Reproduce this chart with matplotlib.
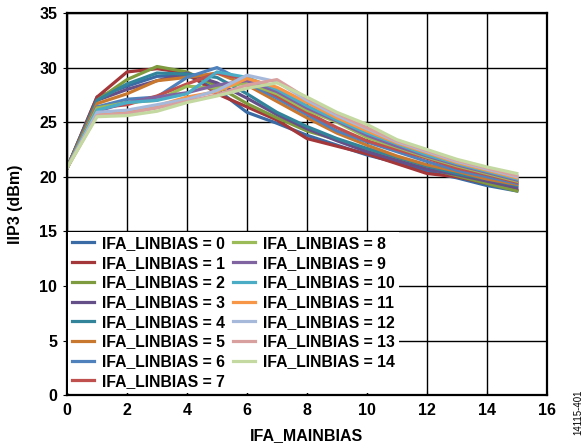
import matplotlib
matplotlib.use("Agg")
import matplotlib.pyplot as plt

# IIP3 vs IFA_MAINBIAS, one line per IFA_LINBIAS setting
mainbias = list(range(16))

iip3 = [
    [20.8, 27.3, 28.3, 29.2, 29.3, 28.0, 25.9, 24.9, 23.8, 22.9, 22.0, 21.3, 20.5, 19.9, 19.2, 18.7],
    [20.8, 27.3, 29.6, 29.9, 29.5, 27.6, 26.4, 25.2, 23.5, 22.8, 22.1, 21.2, 20.3, 20.0, 19.4, 18.8],
    [20.8, 27.0, 28.9, 30.1, 29.6, 28.3, 26.7, 25.4, 24.2, 23.4, 22.4, 21.6, 20.8, 20.1, 19.4, 18.7],
    [20.8, 27.0, 28.0, 28.8, 29.5, 28.6, 27.2, 25.7, 24.4, 23.3, 22.3, 21.5, 20.7, 20.2, 19.6, 19.0],
    [20.8, 27.0, 28.5, 29.5, 29.4, 29.1, 27.6, 25.9, 24.6, 23.5, 22.6, 21.8, 21.0, 20.3, 19.8, 19.2],
    [20.8, 26.7, 27.6, 28.8, 29.1, 29.5, 28.4, 26.9, 25.4, 24.0, 22.9, 21.9, 21.1, 20.5, 19.8, 19.3],
    [20.8, 26.4, 27.1, 27.3, 29.1, 30.0, 28.6, 27.2, 25.7, 24.2, 23.2, 22.3, 21.4, 20.6, 20.0, 19.4],
    [20.8, 26.3, 26.6, 27.4, 28.5, 29.5, 28.9, 27.4, 25.9, 24.5, 23.3, 22.5, 21.7, 20.8, 20.2, 19.5],
    [20.8, 26.3, 26.8, 27.0, 28.3, 28.1, 28.6, 27.6, 26.1, 25.0, 23.6, 22.7, 21.8, 21.0, 20.3, 19.6],
    [20.8, 26.0, 26.8, 27.3, 27.7, 28.4, 28.8, 27.8, 26.3, 25.1, 23.8, 22.8, 21.9, 21.1, 20.4, 19.7],
    [20.8, 26.1, 26.8, 27.0, 27.6, 29.6, 29.1, 28.0, 26.5, 25.2, 24.0, 23.0, 22.0, 21.2, 20.5, 19.8],
    [20.8, 25.7, 25.9, 26.5, 27.3, 27.8, 29.0, 28.2, 26.8, 25.4, 24.2, 23.1, 22.2, 21.3, 20.6, 19.9],
    [20.8, 25.9, 26.1, 26.6, 27.1, 27.9, 29.3, 28.7, 27.0, 25.6, 24.4, 23.2, 22.3, 21.4, 20.7, 20.0],
    [20.8, 25.6, 25.8, 26.3, 26.9, 27.5, 28.4, 28.9, 27.2, 25.8, 24.5, 23.3, 22.4, 21.5, 20.8, 20.1],
    [20.8, 25.5, 25.6, 26.0, 26.8, 27.4, 28.1, 28.6, 27.3, 25.9, 24.8, 23.4, 22.5, 21.6, 20.9, 20.3],
]
labels = ["IFA_LINBIAS = %d" % i for i in range(15)]

colors = ["#3A6BA5", "#A3373A", "#7F9B3F", "#654F88", "#32849B", "#C97830",
          "#4F81BD", "#C0504D", "#9BBB59", "#8064A2", "#4BACC6", "#F79646",
          "#A6B9DB", "#D9A0A0", "#C4D9A2"]

plt.rcParams["font.family"] = "Liberation Sans"
plt.rcParams["font.weight"] = "bold"

fig = plt.figure(figsize=(5.88, 4.48), dpi=100)
ax = fig.add_axes([0.114, 0.118, 0.816, 0.853])

for vals, c, lab in zip(iip3, colors, labels):
    ax.plot(mainbias, vals, color=c, lw=2.3, label=lab)

ax.set_xlim(0, 16)
ax.set_ylim(0, 35)
ax.set_xticks(range(0, 17, 2))
ax.set_yticks(range(0, 36, 5))
ax.grid(True, color="black", lw=1.0)
ax.set_axisbelow(True)
for s in ax.spines.values():
    s.set_linewidth(1.6)
ax.tick_params(axis="x", direction="in", length=3, labelsize=11.5, pad=6)
ax.tick_params(axis="y", direction="out", length=3, labelsize=11.5, pad=4)

ax.set_xlabel("IFA_MAINBIAS", fontsize=11.5, fontweight="bold", labelpad=7)
ax.set_ylabel("IIP3 (dBm)", fontsize=11.5, fontweight="bold", labelpad=12)

leg = ax.legend(ncol=2, loc="lower left", bbox_to_anchor=(0.003, 0.006),
                borderaxespad=0, fontsize=11.3, frameon=True, fancybox=False,
                framealpha=1, edgecolor="none", handlelength=1.4,
                handletextpad=0.5, columnspacing=0.5, labelspacing=0.3,
                borderpad=0.25)
for t in leg.get_texts():
    t.set_fontweight("bold")

fig.text(0.983, 0.03, "14115-401", rotation=90, fontsize=7, fontweight="normal",
         ha="center", va="bottom")

fig.savefig("out.png", dpi=100)
